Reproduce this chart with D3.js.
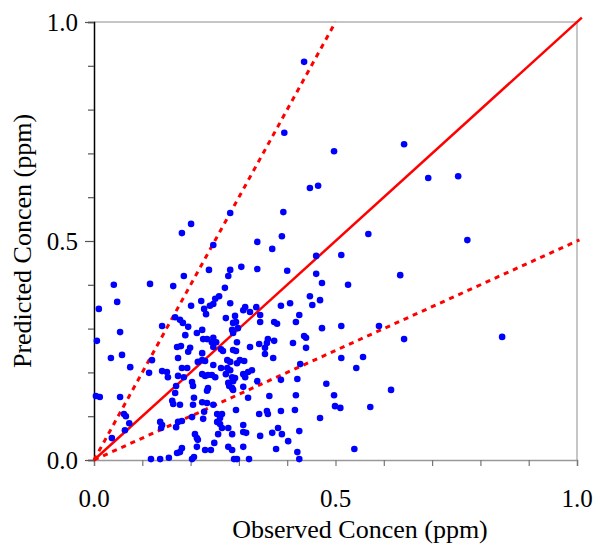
<!DOCTYPE html>
<html>
<head>
<meta charset="utf-8">
<script src="https://cdn.jsdelivr.net/npm/d3@7"></script>
<style>
  body { margin: 0; background: #fff; }
  text { font-family: 'Liberation Serif', 'Times New Roman', serif; }
</style>
</head>
<body>
<svg id="root" width="600" height="555"></svg>
<script>
const width = 600
const height = 555
const margin = { top: 22, right: 23, bottom: 95, left: 94 }

// observed (x) and predicted (y) concentrations, ppm
const observed = [
  0.182, 0.201, 0.186, 0.041, 0.116, 0.164, 0.048, 0.010, 0.201, 0.222,
  0.228, 0.168, 0.178, 0.282, 0.392, 0.447, 0.464, 0.247, 0.338, 0.369,
  0.389, 0.238, 0.282, 0.305, 0.338, 0.400, 0.278, 0.460, 0.460, 0.271,
  0.259, 0.251, 0.247, 0.240, 0.282, 0.232, 0.313, 0.309, 0.323, 0.336,
  0.344, 0.292, 0.273, 0.387, 0.406, 0.425, 0.447, 0.452, 0.468, 0.568,
  0.512, 0.472, 0.526, 0.634, 0.435, 0.394, 0.497, 0.642, 0.692, 0.754,
  0.773, 0.845, 0.184, 0.195, 0.189, 0.141, 0.054, 0.213, 0.226, 0.006,
  0.172, 0.180, 0.199, 0.195, 0.035, 0.058, 0.174, 0.224, 0.215, 0.224,
  0.120, 0.075, 0.182, 0.193, 0.141, 0.151, 0.153, 0.114, 0.174, 0.186,
  0.203, 0.205, 0.170, 0.004, 0.012, 0.054, 0.168, 0.162, 0.164, 0.178,
  0.207, 0.205, 0.224, 0.062, 0.066, 0.073, 0.137, 0.141, 0.139, 0.182,
  0.174, 0.170, 0.203, 0.228, 0.064, 0.037, 0.209, 0.213, 0.215, 0.230,
  0.172, 0.178, 0.182, 0.118, 0.137, 0.155, 0.203, 0.207, 0.288, 0.294,
  0.344, 0.373, 0.379, 0.418, 0.224, 0.286, 0.288, 0.298, 0.234, 0.247,
  0.244, 0.253, 0.435, 0.439, 0.296, 0.360, 0.373, 0.358, 0.354, 0.412,
  0.323, 0.342, 0.247, 0.263, 0.267, 0.288, 0.294, 0.439, 0.354, 0.371,
  0.230, 0.276, 0.282, 0.302, 0.311, 0.296, 0.247, 0.263, 0.276, 0.282,
  0.327, 0.319, 0.313, 0.309, 0.427, 0.224, 0.230, 0.236, 0.244, 0.251,
  0.273, 0.286, 0.292, 0.288, 0.338, 0.387, 0.421, 0.278, 0.280, 0.286,
  0.288, 0.236, 0.234, 0.309, 0.363, 0.418, 0.319, 0.234, 0.247, 0.294,
  0.358, 0.360, 0.387, 0.342, 0.416, 0.468, 0.255, 0.265, 0.261, 0.226,
  0.255, 0.261, 0.265, 0.278, 0.309, 0.309, 0.315, 0.381, 0.369, 0.389,
  0.425, 0.257, 0.286, 0.344, 0.402, 0.249, 0.278, 0.286, 0.309, 0.377,
  0.213, 0.242, 0.421, 0.290, 0.296, 0.321, 0.425, 0.472, 0.512, 0.590,
  0.642, 0.512, 0.557, 0.543, 0.481, 0.497, 0.615, 0.499, 0.510, 0.572,
  0.539
]
const predicted = [
  0.518, 0.539, 0.420, 0.400, 0.402, 0.397, 0.361, 0.345, 0.352, 0.363,
  0.345, 0.326, 0.320, 0.564, 0.566, 0.621, 0.626, 0.491, 0.498, 0.482,
  0.511, 0.434, 0.434, 0.441, 0.436, 0.432, 0.420, 0.466, 0.425, 0.393,
  0.374, 0.368, 0.356, 0.352, 0.358, 0.333, 0.349, 0.342, 0.338, 0.349,
  0.331, 0.329, 0.324, 0.352, 0.358, 0.331, 0.374, 0.354, 0.365, 0.516,
  0.468, 0.404, 0.400, 0.422, 0.909, 0.747, 0.705, 0.721, 0.644, 0.648,
  0.502, 0.281, 0.313, 0.304, 0.285, 0.306, 0.292, 0.290, 0.276, 0.272,
  0.258, 0.260, 0.256, 0.247, 0.233, 0.240, 0.233, 0.244, 0.224, 0.228,
  0.228, 0.212, 0.210, 0.210, 0.203, 0.201, 0.189, 0.199, 0.192, 0.189,
  0.178, 0.169, 0.169, 0.146, 0.144, 0.144, 0.153, 0.135, 0.128, 0.126,
  0.142, 0.126, 0.132, 0.105, 0.100, 0.084, 0.087, 0.080, 0.073, 0.089,
  0.087, 0.075, 0.098, 0.110, 0.068, 0.050, 0.059, 0.050, 0.046, 0.023,
  0.016, 0.018, 0.027, 0.002, 0.002, 0.005, 0.002, 0.007, 0.313, 0.315,
  0.315, 0.315, 0.311, 0.315, 0.297, 0.297, 0.290, 0.301, 0.276, 0.279,
  0.269, 0.269, 0.283, 0.279, 0.269, 0.276, 0.272, 0.267, 0.256, 0.267,
  0.258, 0.265, 0.258, 0.253, 0.249, 0.251, 0.249, 0.256, 0.242, 0.233,
  0.226, 0.228, 0.224, 0.228, 0.226, 0.221, 0.217, 0.210, 0.210, 0.205,
  0.205, 0.201, 0.189, 0.196, 0.219, 0.196, 0.192, 0.194, 0.194, 0.189,
  0.196, 0.189, 0.187, 0.180, 0.180, 0.183, 0.185, 0.176, 0.169, 0.164,
  0.160, 0.164, 0.158, 0.167, 0.146, 0.148, 0.142, 0.130, 0.126, 0.114,
  0.112, 0.105, 0.112, 0.105, 0.114, 0.096, 0.105, 0.105, 0.096, 0.094,
  0.087, 0.082, 0.073, 0.073, 0.080, 0.064, 0.062, 0.073, 0.062, 0.059,
  0.066, 0.059, 0.059, 0.055, 0.043, 0.039, 0.030, 0.023, 0.030, 0.025,
  0.030, 0.023, 0.018, 0.002, 0.002, 0.002, 0.002, 0.301, 0.306, 0.306,
  0.276, 0.233, 0.235, 0.210, 0.174, 0.148, 0.160, 0.123, 0.119, 0.121,
  0.025
]

const tickValues = [0, 0.5, 1]
const tickLabels = ['0.0', '0.5', '1.0']
const minorTicks = d3.range(0, 1.0001, 0.1)

// reference lines: 1:1, 2:1 and 1:2
const refLines = [
  { name: '1:1', pts: [[0, 0], [1.01, 1.01]], dash: null },
  { name: '2:1', pts: [[0, 0], [0.5, 1]], dash: '5,5' },
  { name: '1:2', pts: [[0, 0], [1.005, 0.5025]], dash: '5,5' }
]

const points = observed.map((d, i) => ({ x: d, y: predicted[i] }))

const svg = d3.select('#root')

const xScale = d3.scaleLinear()
  .domain([0, 1])
  .range([margin.left, width - margin.right])

const yScale = d3.scaleLinear()
  .domain([0, 1])
  .range([height - margin.bottom, margin.top])

// frame (top + right)
svg.append('path')
  .attr('d', `M${xScale(0)},${yScale(1)}H${xScale(1)}V${yScale(0)}`)
  .attr('fill', 'none')
  .attr('stroke', '#b4b4b4')
  .attr('stroke-width', 1.5)

// bottom axis
const xAxis = d3.axisBottom(xScale)
  .tickValues(minorTicks)
  .tickSize(6)
  .tickFormat('')

const gx = svg.append('g')
  .attr('class', 'x axis')
  .attr('transform', `translate(0, ${yScale(0)})`)
  .call(xAxis)
gx.select('.domain').attr('stroke', '#999').attr('stroke-width', 1.5)
gx.selectAll('.tick line').attr('stroke', '#777').attr('stroke-width', 1.2)

svg.append('g')
  .selectAll('text.xlab')
  .data(tickValues)
  .enter()
  .append('text')
  .attr('class', 'xlab')
  .attr('x', d => xScale(d))
  .attr('y', yScale(0) + 47)
  .attr('text-anchor', 'middle')
  .attr('font-size', 25)
  .text((d, i) => tickLabels[i])

// left axis
const yAxis = d3.axisLeft(yScale)
  .tickValues(minorTicks)
  .tickSize(6)
  .tickFormat('')

const gy = svg.append('g')
  .attr('class', 'y axis')
  .attr('transform', `translate(${xScale(0)}, 0)`)
  .call(yAxis)
gy.select('.domain').attr('stroke', '#000').attr('stroke-width', 1.5)
gy.selectAll('.tick line')
  .attr('stroke', '#555')
  .attr('stroke-width', 1.2)
  .attr('x2', d => (tickValues.some(t => Math.abs(t - d) < 1e-6) ? -9 : -6))

svg.append('g')
  .selectAll('text.ylab')
  .data(tickValues)
  .enter()
  .append('text')
  .attr('class', 'ylab')
  .attr('x', xScale(0) - 16)
  .attr('y', d => yScale(d))
  .attr('dy', '0.35em')
  .attr('text-anchor', 'end')
  .attr('font-size', 25)
  .text((d, i) => tickLabels[i])

// axis titles
svg.append('text')
  .attr('x', 360)
  .attr('y', 538)
  .attr('text-anchor', 'middle')
  .attr('font-size', 26)
  .text('Observed Concen (ppm)')

svg.append('text')
  .attr('transform', `translate(31, ${yScale(0.5)}) rotate(-90)`)
  .attr('text-anchor', 'middle')
  .attr('font-size', 26)
  .text('Predicted Concen (ppm)')

// reference lines
const line = d3.line().x(d => xScale(d[0])).y(d => yScale(d[1]))

svg.selectAll('path.ref')
  .data(refLines)
  .enter()
  .append('path')
  .attr('class', 'ref')
  .attr('d', d => line(d.pts))
  .attr('fill', 'none')
  .attr('stroke', '#ff0000')
  .attr('stroke-width', d => (d.dash ? 3 : 2.5))
  .attr('stroke-dasharray', d => d.dash)

// points
svg.selectAll('circle.pt')
  .data(points)
  .enter()
  .append('circle')
  .attr('class', 'pt')
  .attr('cx', d => xScale(d.x))
  .attr('cy', d => yScale(d.y))
  .attr('r', 3.3)
  .attr('fill', '#0000ff')
</script>
</body>
</html>
